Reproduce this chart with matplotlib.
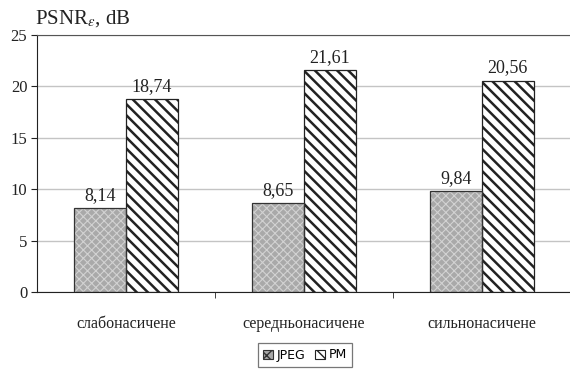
import matplotlib.pyplot as plt
import numpy as np
from matplotlib.patches import Patch

plt.rcParams['font.family'] = ['Liberation Serif', 'DejaVu Serif']
plt.rcParams['mathtext.fontset'] = 'stix'

categories = ['слабонасичене', 'середньонасичене', 'сильнонасичене']
jpeg = [8.14, 8.65, 9.84]
pm = [18.74, 21.61, 20.56]
yticks = [0, 5, 10, 15, 20, 25]

JPEG_FACE = '#a9a9a9'
JPEG_DOTS = '#d2d2d2'
PM_HATCH = '\\\\\\'

fig = plt.figure(figsize=(5.7, 3.71), dpi=100)
ax = fig.add_axes([37 / 570, 1 - 292 / 371, 534 / 570, 257 / 371])

x = np.arange(len(categories))
w = 0.29

# JPEG: grey fill with a fine light pattern, then a dark outline on top
with plt.rc_context({'hatch.linewidth': 0.8}):
    ax.bar(x - w / 2, jpeg, w, color=JPEG_FACE, edgecolor=JPEG_DOTS, hatch='xxxx',
           linewidth=0, zorder=2)
ax.bar(x - w / 2, jpeg, w, fill=False, edgecolor='#333333', linewidth=0.9, zorder=3)

# PM: diagonal black stripes on white
with plt.rc_context({'hatch.linewidth': 1.8}):
    ax.bar(x + w / 2, pm, w, color='white', edgecolor='#222222', hatch=PM_HATCH,
           linewidth=0.9, zorder=2)

for xi, v in zip(x - w / 2, jpeg):
    ax.text(xi, v + 0.4, f'{v:.2f}'.replace('.', ','), ha='center', va='bottom',
            fontsize=13, color='#222222')
for xi, v in zip(x + w / 2, pm):
    ax.text(xi, v + 0.4, f'{v:.2f}'.replace('.', ','), ha='center', va='bottom',
            fontsize=13, color='#222222')

ax.set_xlim(-0.5, 2.5)
ax.set_ylim(0, 25)
ax.set_yticks(yticks)
ax.set_yticklabels([str(t) for t in yticks], fontsize=12, color='#222222')
ax.yaxis.grid(True, color='#c4c4c4', linewidth=1, zorder=0)
ax.set_axisbelow(True)

ax.set_xticks(x)
ax.set_xticklabels(categories, fontsize=11.5, color='#222222')
ax.tick_params(axis='x', which='major', length=0, pad=17)
ax.set_xticks([0.5, 1.5], minor=True)
ax.tick_params(axis='x', which='minor', length=4, direction='out', color='#222222')
ax.tick_params(axis='y', length=4, direction='out', color='#222222', pad=3)

ax.spines['right'].set_visible(False)
ax.spines['top'].set_color('#555555')
ax.spines['left'].set_color('#222222')
ax.spines['bottom'].set_color('#222222')

fig.text(37 / 570 - 0.003, 1 - 19 / 371, r'PSNR$_{\varepsilon}$, dB', fontsize=15,
         color='#222222', ha='left', va='center')

with plt.rc_context({'hatch.linewidth': 1.2}):
    handles = [Patch(facecolor=JPEG_FACE, edgecolor='#333333', hatch='xxx', linewidth=0.8),
               Patch(facecolor='white', edgecolor='#222222', hatch='\\\\', linewidth=0.8)]
leg = fig.legend(handles, ['JPEG', 'PM'], loc='center', bbox_to_anchor=(305 / 570, 1 - 355 / 371),
                 ncol=2, frameon=True, fancybox=False, edgecolor='#555555',
                 handlelength=0.75, handleheight=0.75, handletextpad=0.3, columnspacing=0.8,
                 borderpad=0.45, prop={'family': 'DejaVu Sans', 'size': 9})
leg.get_frame().set_linewidth(0.9)

fig.savefig('out.png', dpi=100)
